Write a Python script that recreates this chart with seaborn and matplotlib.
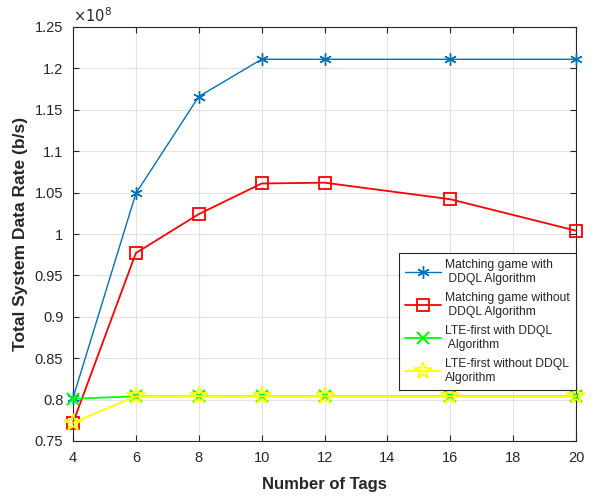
import pandas as pd
import matplotlib.pyplot as plt
import seaborn as sns

tags = [4, 6, 8, 10, 12, 16, 20]
match_ddql = [0.802e8, 1.049e8, 1.166e8, 1.211e8, 1.211e8, 1.211e8, 1.211e8]
match_no_ddql = [0.772e8, 0.977e8, 1.024e8, 1.061e8, 1.062e8, 1.042e8, 1.004e8]
lte_ddql = [0.801e8, 0.804e8, 0.804e8, 0.804e8, 0.804e8, 0.804e8, 0.804e8]
lte_no_ddql = [0.772e8, 0.804e8, 0.804e8, 0.804e8, 0.804e8, 0.804e8, 0.804e8]

labels = [
    "Matching game with\n DDQL Algorithm",
    "Matching game without\n DDQL Algorithm",
    "LTE-first with DDQL\n Algorithm",
    "LTE-first without DDQL\nAlgorithm",
]
ytick_labels = ["0.75", "0.8", "0.85", "0.9", "0.95", "1", "1.05", "1.1", "1.15", "1.2", "1.25"]


def build_frame():
    rows = []
    for name, vals in zip(labels, [match_ddql, match_no_ddql, lte_ddql, lte_no_ddql]):
        for t, v in zip(tags, vals):
            rows.append({"tags": t, "rate": v, "series": name})
    return pd.DataFrame(rows)


def main():
    sns.set_style("ticks")
    plt.rcParams["font.family"] = ["Liberation Sans", "DejaVu Sans"]
    df = build_frame()

    fig = plt.figure(figsize=(5.94, 4.96), dpi=100)
    ax = fig.add_axes([73 / 594, 55 / 496, 503 / 594, 414 / 496])

    # MATLAB-like markers: asterisk, square, cross, pentagram
    styles = {
        labels[0]: dict(color="#0072BD", marker=(6, 2, 0), ms=9, lw=1.0, mew=1.0),
        labels[1]: dict(color="#FF0000", marker="s", ms=9, lw=1.3, mew=1.3),
        labels[2]: dict(color="#00FF00", marker="x", ms=9, lw=1.3, mew=1.5),
        labels[3]: dict(color="#FFFF00", marker="*", ms=13, lw=1.3, mew=1.3),
    }
    for name in labels:
        sub = df[df["series"] == name]
        st = styles[name]
        sns.lineplot(data=sub, x="tags", y="rate", ax=ax, label=name,
                     color=st["color"], marker=st["marker"], markersize=st["ms"],
                     linewidth=st["lw"], markerfacecolor="none",
                     markeredgecolor=st["color"], markeredgewidth=st["mew"],
                     clip_on=False, zorder=3)

    ax.set_xlim(4, 20)
    ax.set_ylim(0.75e8, 1.25e8)
    ax.set_xticks(range(4, 21, 2))
    ax.set_yticks([0.75e8 + 0.05e8 * i for i in range(11)])
    ax.set_yticklabels(ytick_labels)
    ax.text(0.0, 1.004, r"$\times10^8$", transform=ax.transAxes, fontsize=10.5,
            va="bottom", color="#262626")
    ax.grid(True, color="#e3e3e3", linewidth=0.8)
    ax.set_axisbelow(True)
    ax.tick_params(direction="in", labelsize=10.5, color="#262626", labelcolor="#262626",
                   length=4, top=True, right=True, pad=7)
    for s in ax.spines.values():
        s.set_color("#262626")
        s.set_linewidth(0.8)
    ax.set_xlabel("Number of Tags", fontsize=12, fontweight="bold", color="#262626", labelpad=9)
    ax.set_ylabel("Total System Data Rate (b/s)", fontsize=12.5, fontweight="bold",
                  color="#262626", labelpad=5)

    leg = ax.legend(loc="lower right", bbox_to_anchor=(1.0, 0.123), fontsize=8.7,
                    frameon=True, fancybox=False, edgecolor="#262626", framealpha=1,
                    handlelength=3.0, borderpad=0.5, labelspacing=0.6, handletextpad=0.35,
                    borderaxespad=0.0)
    leg.get_frame().set_linewidth(0.8)

    plt.savefig("out.png", dpi=100)
    plt.close()


if __name__ == "__main__":
    main()
